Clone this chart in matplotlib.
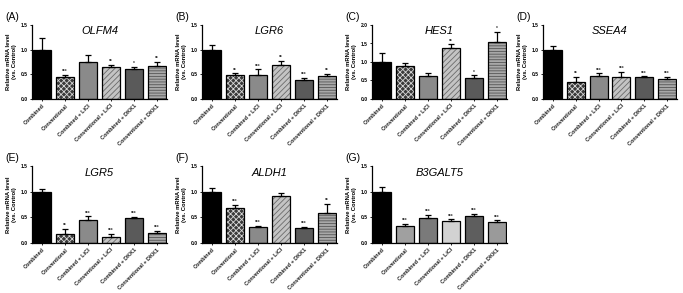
import matplotlib
matplotlib.use("Agg")
import matplotlib.pyplot as plt

plt.rcParams['font.family'] = ['Liberation Sans', 'DejaVu Sans']

groups = ['Combined', 'Conventional', 'Combined + LiCl', 'Conventional + LiCl',
          'Combined + DKK1', 'Conventional + DKK1']

olfm4 = [1.00, 0.44, 0.75, 0.64, 0.61, 0.67]
olfm4_err = [0.23, 0.05, 0.15, 0.05, 0.04, 0.08]
olfm4_sig = ['', '***', '', '**', '*', '**']

lgr6 = [1.00, 0.48, 0.49, 0.69, 0.39, 0.46]
lgr6_err = [0.09, 0.04, 0.11, 0.09, 0.04, 0.05]
lgr6_sig = ['', '**', '***', '**', '***', '**']

hes1 = [1.00, 0.88, 0.63, 1.38, 0.57, 1.55]
hes1_err = [0.25, 0.08, 0.08, 0.10, 0.07, 0.27]
hes1_sig = ['', '', '', '**', '*', '*']

ssea4 = [1.00, 0.34, 0.47, 0.45, 0.44, 0.41]
ssea4_err = [0.08, 0.11, 0.05, 0.10, 0.02, 0.04]
ssea4_sig = ['', '**', '***', '***', '***', '***']

lgr5 = [1.00, 0.18, 0.45, 0.12, 0.49, 0.19]
lgr5_err = [0.06, 0.10, 0.07, 0.06, 0.02, 0.05]
lgr5_sig = ['', '**', '***', '***', '***', '***']

aldh1 = [1.00, 0.69, 0.31, 0.92, 0.29, 0.59]
aldh1_err = [0.07, 0.06, 0.02, 0.05, 0.03, 0.17]
aldh1_sig = ['', '***', '***', '', '***', '**']

b3galt5 = [1.00, 0.34, 0.48, 0.43, 0.52, 0.41]
b3galt5_err = [0.10, 0.03, 0.07, 0.03, 0.05, 0.03]
b3galt5_sig = ['', '***', '***', '***', '***', '***']

# face colour, hatch, hatch colour
patterned = [('#000000', None, None),
             ('#3a3a3a', 'xxxxxx', '#d8d8d8'),
             ('#8a8a8a', None, None),
             ('#c4c4c4', '//////', '#6a6a6a'),
             ('#5a5a5a', None, None),
             ('#a8a8a8', '------', '#555555')]
plain = [('#000000', None, None),
         ('#a0a0a0', None, None),
         ('#7a7a7a', None, None),
         ('#d2d2d2', None, None),
         ('#5e5e5e', None, None),
         ('#9a9a9a', None, None)]

W, H = 683, 293
fig = plt.figure(figsize=(W / 100, H / 100), dpi=100)
fig.patch.set_facecolor('white')


def panel(x0, x1, ytop, ybot, label, title, vals, errs, sigs, ymax, styles):
    ax = fig.add_axes([x0 / W, 1 - ybot / H, (x1 - x0) / W, (ybot - ytop) / H])
    xs = range(len(vals))
    for i, v in enumerate(vals):
        fc, hatch, hc = styles[i]
        if hatch:
            plt.rcParams['hatch.color'] = hc
            plt.rcParams['hatch.linewidth'] = 0.6
            ax.bar(i, v, width=0.8, color=fc, edgecolor=hc, hatch=hatch, linewidth=0)
        else:
            ax.bar(i, v, width=0.8, color=fc, linewidth=0)
        ax.bar(i, v, width=0.8, fill=False, edgecolor='black', linewidth=0.9)
    ax.errorbar(list(xs), vals, yerr=[[0] * len(vals), errs], fmt='none',
                ecolor='black', elinewidth=0.9, capsize=2.5, capthick=0.9)
    for i, (v, e, s) in enumerate(zip(vals, errs, sigs)):
        if s:
            ax.text(i, v + e + ymax * 0.01, s, ha='center', va='bottom',
                    fontsize=3.5, fontweight='bold', color='#333333')
    ax.set_xlim(-0.45, len(vals) - 0.55)
    ax.set_ylim(0, ymax)
    ticks = [t * 0.5 for t in range(int(ymax / 0.5) + 1)]
    ax.set_yticks(ticks)
    ax.set_yticklabels([f'{t:.1f}' for t in ticks], fontsize=3.6, fontweight='bold')
    ax.set_xticks(list(xs))
    ax.set_xticklabels(groups, rotation=45, ha='right', rotation_mode='anchor',
                       fontsize=4, fontweight='bold', color='#222222')
    ax.tick_params(axis='both', length=1.5, width=0.6, pad=1.5)
    for s in ['top', 'right']:
        ax.spines[s].set_visible(False)
    for s in ['left', 'bottom']:
        ax.spines[s].set_linewidth(0.9)
    ax.set_ylabel('Relative mRNA level\n(vs. Control)', fontsize=4.2,
                  fontweight='bold', labelpad=3, linespacing=1.1)
    ax.text(0.5, 0.98, title, transform=ax.transAxes, ha='center', va='top',
            fontsize=8, fontstyle='italic')
    fig.text((x0 - 27) / W, 1 - (ytop - 8) / H, label, fontsize=7.5,
             ha='left', va='center')
    return ax


top = (25, 99)
bot = (166, 243)
panel(32, 167, *top, '(A)', 'OLFM4', olfm4, olfm4_err, olfm4_sig, 1.5, patterned)
panel(202, 337, *top, '(B)', 'LGR6', lgr6, lgr6_err, lgr6_sig, 1.5, patterned)
panel(372, 507, *top, '(C)', 'HES1', hes1, hes1_err, hes1_sig, 2.0, patterned)
panel(543, 677, *top, '(D)', 'SSEA4', ssea4, ssea4_err, ssea4_sig, 1.5, patterned)
panel(32, 167, *bot, '(E)', 'LGR5', lgr5, lgr5_err, lgr5_sig, 1.5, patterned)
panel(202, 337, *bot, '(F)', 'ALDH1', aldh1, aldh1_err, aldh1_sig, 1.5, patterned)
panel(372, 507, *bot, '(G)', 'B3GALT5', b3galt5, b3galt5_err, b3galt5_sig, 1.5, plain)

fig.savefig('out.png', dpi=100, facecolor='white')
